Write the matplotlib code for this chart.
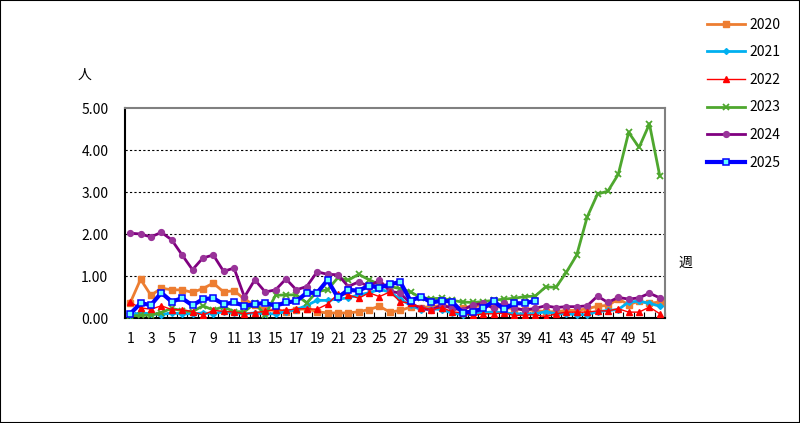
import numpy as np
import matplotlib
matplotlib.use("Agg")
import matplotlib.pyplot as plt
from matplotlib.patches import Rectangle

plt.rcParams['font.family'] = ['Noto Sans CJK JP', 'DejaVu Sans']

weeks = list(range(1, 53))
xtick_labels = [str(w) for w in range(1, 53, 2)]
yticks = [0, 1, 2, 3, 4, 5]

y2020 = [0.36, 0.92, 0.54, 0.71, 0.67, 0.67, 0.61, 0.70, 0.83, 0.62, 0.65, 0.45,
         0.30, 0.20, 0.18, 0.15, 0.20, 0.22, 0.15, 0.12, 0.12, 0.12, 0.15, 0.20,
         0.28, 0.14, 0.18, 0.26, 0.25, 0.27, 0.30, 0.27, 0.25, 0.27, 0.30, 0.28,
         0.25, 0.22, 0.20, 0.18, 0.15, 0.15, 0.18, 0.18, 0.22, 0.28, 0.30, 0.45,
         0.32, 0.40, 0.35, 0.38]
y2021 = [0.08, 0.12, 0.10, 0.08, 0.12, 0.10, 0.10, 0.12, 0.10, 0.15, 0.12, 0.10,
         0.12, 0.10, 0.10, 0.15, 0.20, 0.30, 0.42, 0.42, 0.45, 0.48, 0.55, 0.60,
         0.68, 0.62, 0.45, 0.30, 0.20, 0.22, 0.20, 0.12, 0.08, 0.10, 0.12, 0.15,
         0.12, 0.10, 0.10, 0.10, 0.15, 0.10, 0.10, 0.08, 0.08, 0.15, 0.18, 0.20,
         0.38, 0.40, 0.35, 0.28]
y2022 = [0.37, 0.24, 0.21, 0.29, 0.20, 0.20, 0.15, 0.07, 0.18, 0.16, 0.14, 0.10,
         0.13, 0.16, 0.20, 0.18, 0.22, 0.22, 0.21, 0.33, 0.57, 0.55, 0.47, 0.60,
         0.51, 0.62, 0.39, 0.35, 0.25, 0.20, 0.25, 0.15, 0.12, 0.06, 0.10, 0.10,
         0.12, 0.06, 0.07, 0.08, 0.03, 0.10, 0.14, 0.14, 0.14, 0.17, 0.17, 0.22,
         0.14, 0.14, 0.26, 0.10]
y2023 = [0.05, 0.06, 0.07, 0.13, 0.23, 0.17, 0.15, 0.29, 0.19, 0.27, 0.15, 0.15,
         0.35, 0.07, 0.54, 0.55, 0.55, 0.36, 0.63, 0.67, 0.96, 0.90, 1.04, 0.91,
         0.80, 0.75, 0.70, 0.62, 0.48, 0.46, 0.47, 0.42, 0.38, 0.37, 0.39, 0.42,
         0.45, 0.47, 0.51, 0.52, 0.74, 0.73, 1.09, 1.50, 2.40, 2.95, 3.02, 3.42,
         4.42, 4.06, 4.62, 3.38]
y2024 = [2.02, 2.00, 1.93, 2.04, 1.86, 1.50, 1.15, 1.43, 1.50, 1.11, 1.19, 0.50,
         0.91, 0.62, 0.67, 0.93, 0.67, 0.75, 1.10, 1.04, 1.03, 0.75, 0.86, 0.75,
         0.90, 0.64, 0.59, 0.35, 0.23, 0.19, 0.31, 0.23, 0.19, 0.31, 0.35, 0.23,
         0.36, 0.23, 0.19, 0.23, 0.29, 0.25, 0.27, 0.27, 0.29, 0.52, 0.37, 0.49,
         0.45, 0.48, 0.59, 0.48]
w2025 = list(range(1, 41))
y2025 = [0.10, 0.35, 0.31, 0.60, 0.39, 0.47, 0.30, 0.45, 0.47, 0.33, 0.37, 0.29,
         0.33, 0.36, 0.29, 0.37, 0.40, 0.60, 0.60, 0.90, 0.49, 0.67, 0.65, 0.77,
         0.72, 0.80, 0.86, 0.41, 0.51, 0.37, 0.41, 0.39, 0.13, 0.15, 0.23, 0.40,
         0.21, 0.35, 0.35, 0.41]

fig = plt.figure(figsize=(8.0, 4.23), dpi=100)
W, H = 800, 423
ax = fig.add_axes([125 / W, 1 - 318 / H, 540 / W, 210 / H])

ax.plot(weeks, y2020, color='#ED7D31', lw=2, marker='s', ms=4.2, label='2020', zorder=3)
ax.plot(weeks, y2021, color='#00B0F0', lw=2, marker='D', ms=3, label='2021', zorder=3)
ax.plot(weeks, y2022, color='#FF0000', lw=1, marker='^', ms=4.5, label='2022', zorder=4)
ax.plot(weeks, y2023, color='#4EA72E', lw=2, marker='x', ms=4.5, mew=1.3, label='2023', zorder=3)
ax.plot(weeks, y2024, color='#800080', lw=2, marker='o', ms=4.2, mfc='#993399', mec='#993399',
        label='2024', zorder=3)
ax.plot(w2025, y2025, color='#0000FF', lw=3, marker='s', ms=5, mfc='#66FFFF', mec='#0000FF',
        mew=1.1, label='2025', zorder=5)

ax.set_xlim(0.5, 52.5)
ax.set_ylim(0, 5)
ax.set_yticks(yticks)
ax.set_yticklabels([f'{v:.2f}' for v in yticks], fontsize=10)
ax.tick_params(axis='y', length=0, pad=12)
ax.set_xticks(range(1, 53, 2))
ax.set_xticklabels(xtick_labels, fontsize=10)
ax.set_xticks(np.arange(0.5, 53, 1), minor=True)
ax.tick_params(axis='x', which='major', length=0, pad=10)
ax.tick_params(axis='x', which='minor', length=4, direction='in', width=0.8)
for v in [1, 2, 3, 4]:
    ax.axhline(v, color='black', lw=0.8, ls=(0, (2, 2)), zorder=1)

for s in ['top', 'right']:
    ax.spines[s].set_color('#808080')
    ax.spines[s].set_linewidth(1.5)
for s in ['left', 'bottom']:
    ax.spines[s].set_color('black')
    ax.spines[s].set_linewidth(1.5)

fig.text(85 / W, 1 - 75 / H, '人', fontsize=10, ha='center', va='center')
fig.text(685 / W, 1 - 263 / H, '週', fontsize=10, ha='center', va='center')

fig.legend(loc='upper left', bbox_to_anchor=(701 / W, 1 - 12 / H), frameon=False,
           fontsize=10, handlelength=2.8, labelspacing=0.98, handletextpad=0.3,
           borderaxespad=0)

fig.patches.append(Rectangle((0, 0), 1, 1, transform=fig.transFigure, fill=False,
                             edgecolor='black', lw=1.5))

fig.savefig('out.png', dpi=100)
